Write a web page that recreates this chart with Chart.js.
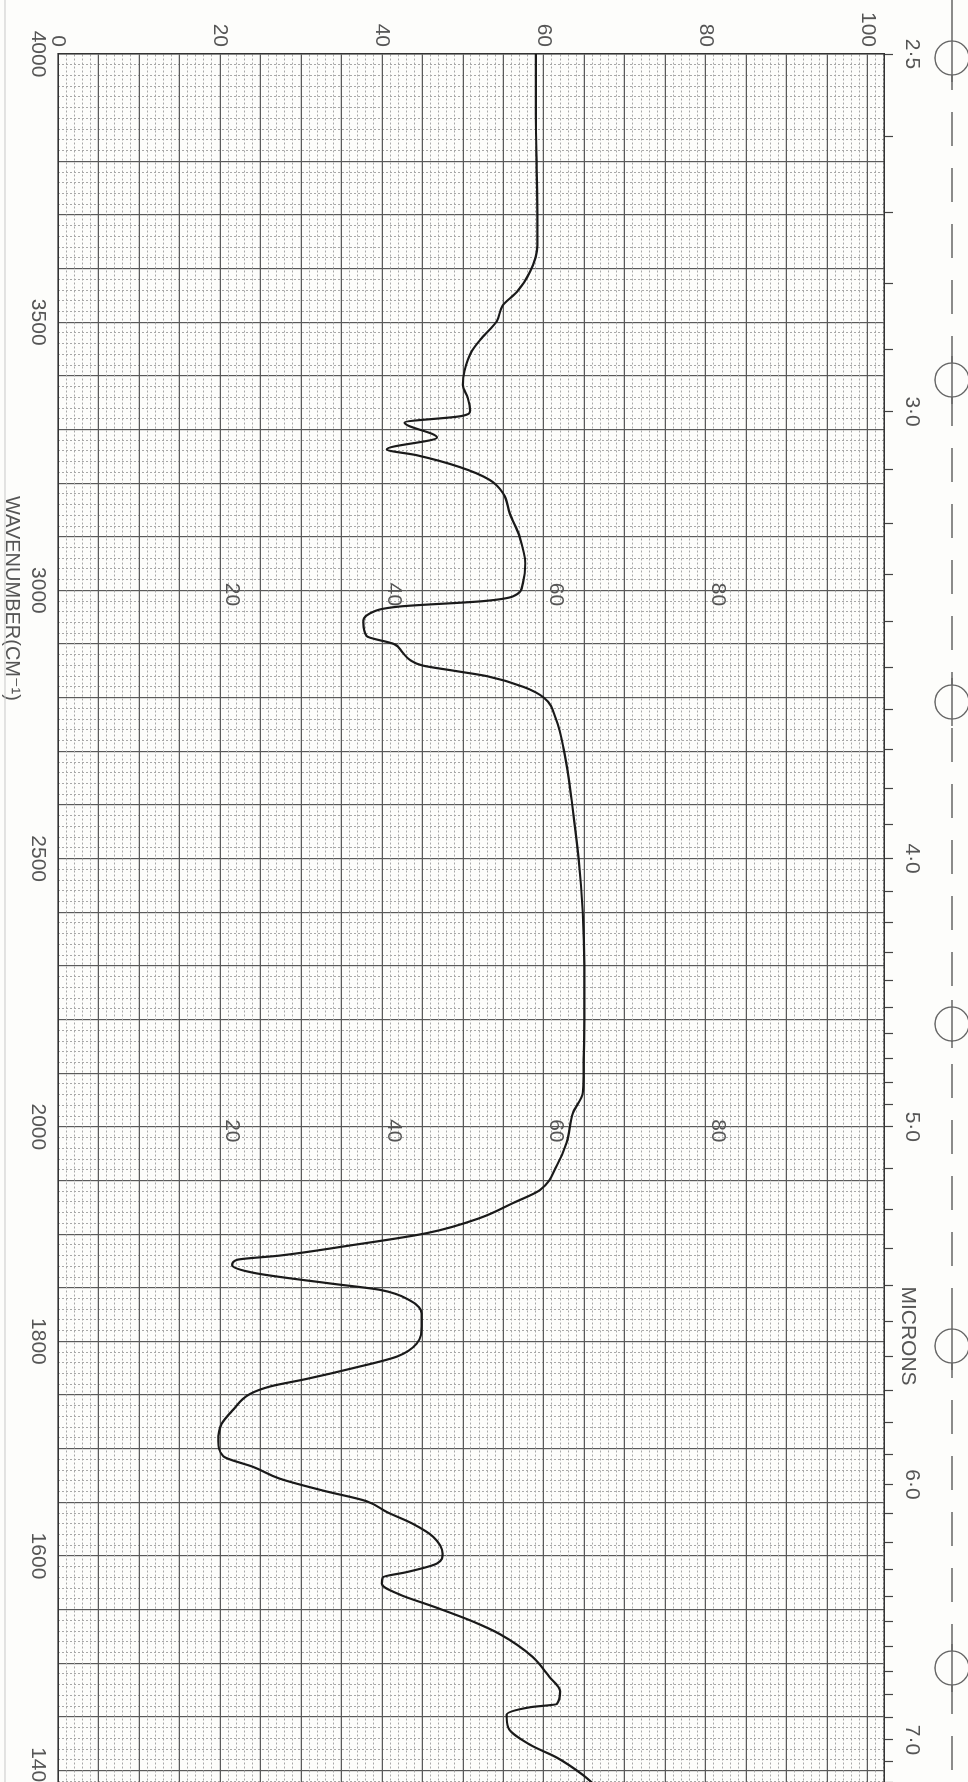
<!DOCTYPE html>
<html>
<head>
<meta charset="utf-8">
<script src="https://cdn.jsdelivr.net/npm/chart.js@4.4.1/dist/chart.umd.min.js"></script>
<style>
  html, body { margin: 0; padding: 0; width: 968px; height: 1782px; overflow: hidden; background: #fdfdfb; }
  /* the chart paper is drawn landscape and turned a quarter clockwise */
  #paper { position: absolute; left: 0; top: 0; width: 1800px; height: 968px;
           transform-origin: 0 0; transform: translate(968px, 0) rotate(90deg); }
</style>
</head>
<body>
<div id="paper"><canvas id="ir" width="1800" height="968"></canvas></div>
<script>
// spectrum (cm-1, % transmittance)
const wavenumber = [
  4000, 3900, 3800, 3700, 3643, 3594, 3557, 3531, 3502, 3470, 3446, 3409, 3383, 3359, 3335, 3325,
  3313, 3285, 3263, 3252, 3230, 3206, 3180, 3143, 3100, 3050, 3013, 2989, 2980, 2970, 2957, 2939,
  2915, 2900, 2885, 2870, 2860, 2850, 2840, 2820, 2800, 2760, 2700, 2600, 2500, 2400, 2300, 2200,
  2100, 2063, 2026, 1985, 1964, 1941, 1929, 1915, 1901, 1889, 1880, 1876, 1871, 1864, 1854, 1848,
  1838, 1826, 1814, 1798, 1786, 1775, 1765, 1758, 1751, 1736, 1723, 1707, 1693, 1683, 1672, 1661,
  1651, 1641, 1630, 1618, 1602, 1593, 1585, 1580, 1574, 1564, 1553, 1539, 1527, 1506, 1487, 1474,
  1462, 1459, 1452, 1440, 1424, 1412, 1396, 1385
];
const transmittance = [
  59.0, 59.0, 59.1, 59.2, 59.2, 58.3, 56.7, 54.9, 54.2, 52.3, 51.1, 50.2, 50.0, 50.6, 50.9, 49.8,
  42.8, 46.8, 40.6, 44.3, 49.6, 53.3, 55.0, 55.8, 57.0, 57.7, 57.4, 56.2, 52.5, 42.2, 38.5, 37.7,
  38.1, 41.5, 42.5, 43.5, 45.0, 49.0, 53.0, 57.5, 60.0, 61.5, 62.5, 63.5, 64.3, 64.8, 65.0, 65.0,
  64.9, 64.8, 63.6, 62.8, 61.6, 59.5, 56.2, 52.1, 45.6, 35.7, 27.4, 22.1, 21.5, 24.1, 33.6, 39.8,
  43.5, 44.9, 44.9, 44.3, 41.9, 36.4, 30.7, 26.2, 23.7, 21.6, 20.2, 19.8, 20.4, 24.1, 27.4, 32.7,
  38.1, 40.6, 43.8, 46.3, 47.5, 46.8, 43.1, 40.1, 40.0, 42.2, 46.3, 51.2, 54.6, 58.6, 60.7, 62.0,
  61.6, 58.3, 55.4, 55.6, 58.3, 61.6, 64.8, 66.5
];

const wavenumber_labels = [4000, 3500, 3000, 2500, 2000, 1800, 1600, 1400];
const percent_labels = [0, 20, 40, 60, 80, 100];
const micron_labels = [2.5, 3.0, 4.0, 5.0, 6.0, 7.0];
const inner_label_rows = [3000, 2000];
const inner_labels = [20, 40, 60, 80];

// the paper doubles its cm-1 scale below 2000
function paper_pos(wn) { return wn >= 2000 ? 4000 - wn : 2000 + (2000 - wn) * 2; }
function paper_wn(p) { return p <= 2000 ? 4000 - p : 2000 - (p - 2000) / 2; }
const x_max = 3245;

const wn_grid = [];
for (let w = 4000; w > 2000; w -= 20) wn_grid.push(w);
for (let w = 2000; w >= 1380; w -= 10) wn_grid.push(w);
function wn_major(w) {
  if (w === 3900) return false;
  return w > 2000 ? w % 100 === 0 : w % 50 === 0;
}
const micron_grid = [];
for (let m = 25; m <= 72; m++) micron_grid.push(m / 10);
const percent_grid = [];
for (let p = 0; p <= 102; p++) percent_grid.push(p);

const font = { family: "'Liberation Sans', Arial, sans-serif", size: 21 };
const ink = "#555";

const paper_marks = {
  id: "paper_marks",
  beforeDraw(chart) {
    const c = chart.ctx;
    c.save();
    c.fillStyle = "#fdfdfb";
    c.fillRect(0, 0, chart.width, chart.height);
    c.restore();
  },
  beforeDatasetsDraw(chart) {
    const c = chart.ctx, x = chart.scales.x, y = chart.scales.y;
    c.save();
    c.font = "21px 'Liberation Sans', Arial, sans-serif";
    c.fillStyle = ink;
    c.textAlign = "center";
    c.textBaseline = "bottom";
    inner_label_rows.forEach((wn) => {
      inner_labels.forEach((p) => {
        c.fillText(String(p), x.getPixelForValue(paper_pos(wn)) + 4, y.getPixelForValue(p) - 1);
      });
    });
    c.restore();
  },
  afterDraw(chart) {
    const c = chart.ctx, x = chart.scales.x, area = chart.chartArea;
    c.save();
    c.fillStyle = ink;
    c.font = "20px 'Liberation Sans', 'DejaVu Sans', sans-serif";
    c.textAlign = "center";
    c.textBaseline = "middle";
    c.fillText("WAVENUMBER(CM\u207B\u00B9)", x.getPixelForValue(paper_pos(3000)) + 8, chart.height - 12);
    c.font = "21px 'Liberation Sans', Arial, sans-serif";
    c.fillText("MICRONS", x.getPixelForValue(paper_pos(1805)), 60);

    // sprocket edge of the paper
    c.strokeStyle = "#666";
    c.lineWidth = 1.3;
    c.setLineDash([34, 22]);
    c.beginPath();
    c.moveTo(0, 16);
    c.lineTo(chart.width, 16);
    c.stroke();
    c.setLineDash([]);
    for (let k = 0; k < 6; k++) {
      const cx = area.left + 4 + 322 * k;
      c.fillStyle = "#fdfdfb";
      c.beginPath();
      c.arc(cx, 16, 17, 0, Math.PI * 2);
      c.fill();
      c.stroke();
      c.beginPath();
      c.moveTo(cx - 24, 16);
      c.lineTo(cx + 24, 16);
      c.stroke();
    }
    c.strokeStyle = "#c8c8c8";
    c.lineWidth = 1;
    c.beginPath();
    c.moveTo(0, chart.height - 5);
    c.lineTo(chart.width, chart.height - 5);
    c.stroke();
    c.restore();
  },
};

const points = wavenumber.map((w, i) => ({ x: paper_pos(w), y: transmittance[i] }));

const config = {
  type: "scatter",
  data: {
    datasets: [
      {
        label: "Spectrum",
        data: points,
        borderColor: "#1a1a1a",
        borderWidth: 2.2,
        pointRadius: 0,
        showLine: true,
        fill: false,
        cubicInterpolationMode: "monotone",
      },
    ],
  },
  options: {
    animation: false,
    responsive: false,
    devicePixelRatio: 1,
    layout: { padding: 0 },
    plugins: {
      legend: { display: false },
      tooltip: { enabled: false },
    },
    scales: {
      x: {
        type: "linear",
        position: "bottom",
        min: 0,
        max: x_max,
        afterBuildTicks: (s) => { s.ticks = wn_grid.map((w) => ({ value: paper_pos(w) })); },
        afterFit: (s) => { s.height = 58; },
        ticks: {
          autoSkip: false,
          maxRotation: 0,
          minRotation: 0,
          padding: 8,
          font: font,
          color: ink,
          callback: (v) => {
            const w = Math.round(paper_wn(v));
            return wavenumber_labels.includes(w) ? String(w) : "";
          },
        },
        grid: {
          drawTicks: false,
          color: (c) => (c.tick && wn_major(Math.round(paper_wn(c.tick.value))) ? "#5a5a5a" : "#a8a8a8"),
          lineWidth: (c) => (c.tick && wn_major(Math.round(paper_wn(c.tick.value))) ? 1.2 : 1),
        },
        border: {
          color: "#333",
          width: 1.5,
          dash: (c) => (c.tick && !wn_major(Math.round(paper_wn(c.tick.value))) ? [2, 2] : []),
        },
      },
      top: {
        type: "linear",
        position: "top",
        min: 0,
        max: x_max,
        afterBuildTicks: (s) => { s.ticks = micron_grid.map((m) => ({ value: paper_pos(10000 / m) })); },
        afterFit: (s) => { s.height = 84; },
        ticks: {
          autoSkip: false,
          maxRotation: 0,
          minRotation: 0,
          padding: 6,
          font: font,
          color: ink,
          callback: (v) => {
            const m = Math.round(100000 / paper_wn(v)) / 10;
            return micron_labels.includes(m) ? m.toFixed(1).replace(".", "\u00B7") : "";
          },
        },
        grid: { drawOnChartArea: false, tickLength: 9, tickColor: "#444", tickWidth: 1.2 },
        border: { color: "#333", width: 1.5 },
      },
      y: {
        type: "linear",
        position: "left",
        min: 0,
        max: 102,
        afterBuildTicks: (s) => { s.ticks = percent_grid.map((p) => ({ value: p })); },
        afterFit: (s) => { s.width = 54; },
        ticks: {
          autoSkip: false,
          padding: 7,
          font: font,
          color: ink,
          callback: (v) => (percent_labels.includes(v) ? String(v) : ""),
        },
        grid: {
          drawTicks: false,
          color: (c) => (c.tick && c.tick.value % 5 === 0 ? "#5a5a5a" : "#a8a8a8"),
          lineWidth: (c) => (c.tick && c.tick.value % 5 === 0 ? 1.2 : 1),
        },
        border: {
          color: "#333",
          width: 1.5,
          dash: (c) => (c.tick && c.tick.value % 5 !== 0 ? [2, 2] : []),
        },
      },
    },
  },
  plugins: [paper_marks],
};

new Chart(document.getElementById("ir"), config);
</script>
</body>
</html>
